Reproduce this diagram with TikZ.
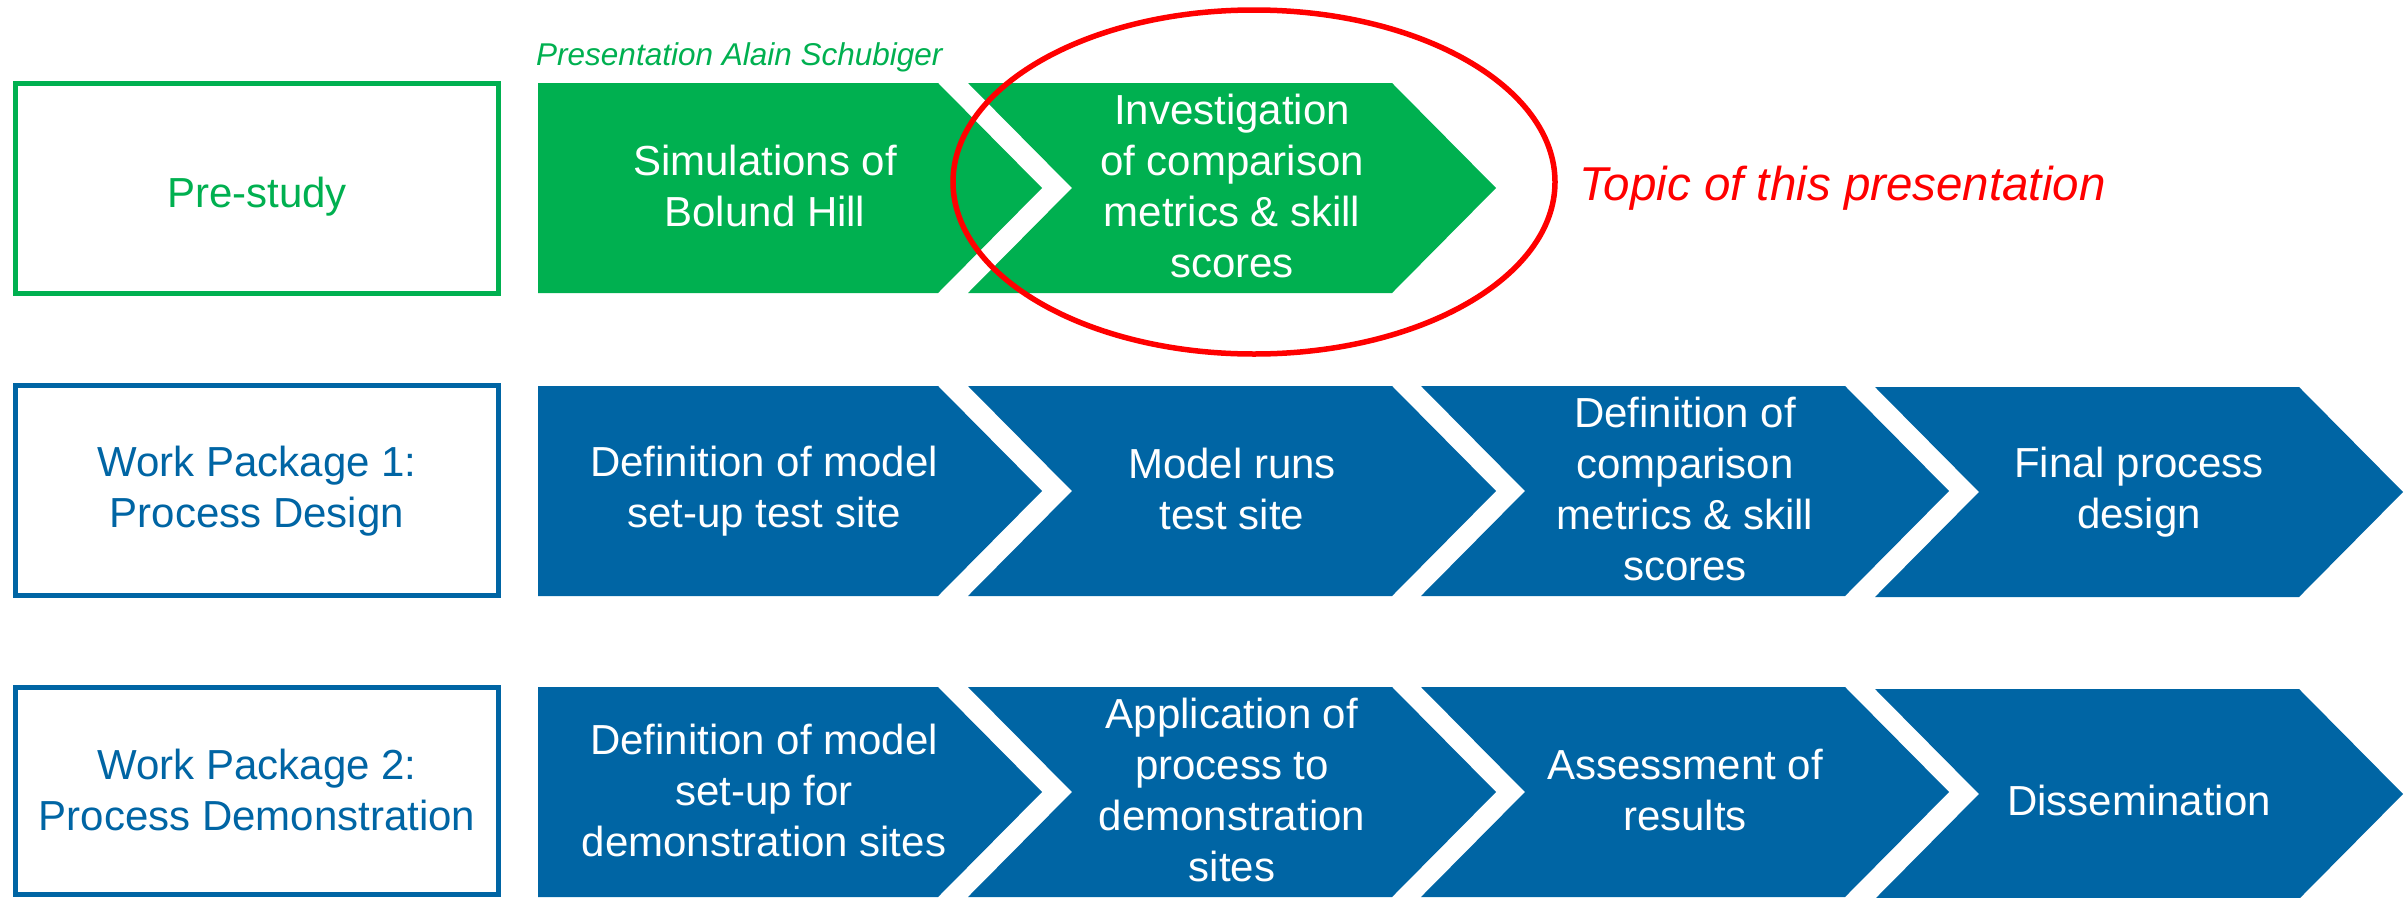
\documentclass[tikz,border=0pt]{standalone}
\usepackage{fontspec}
\setmainfont{Liberation Sans}
\definecolor{stepgreen}{RGB}{0,176,80}
\definecolor{stepblue}{RGB}{0,101,164}
\definecolor{topicred}{RGB}{255,0,0}

% arrow-shaped step: left x, top y, body length, notch depth (0 = flat), colour
\newcommand\chevbody[5]{%
  \fill[#5] (#1,#2) -- ++(#3,0) -- ++(104,105) -- ++(-104,105) -- ++(-#3,0) -- ++(#4,-105) -- cycle;}

\tikzset{
  lbl/.style={align=center, inner sep=0pt, font=\fontsize{42}{51}\selectfont,
    execute at begin node={\rule[-4pt]{0pt}{51pt}},
    execute at end node={\rule[-4pt]{0pt}{51pt}}},
  steptext/.style={lbl, text=white},
  phasebox/.style={draw=#1, line width=5pt, fill=white},
  phasetext/.style={lbl, text=#1},
}

\begin{document}
\begin{tikzpicture}[x=1pt, y=-1pt]
\useasboundingbox (0,0) rectangle (2405,897);

% ---------- Pre-study ----------
\draw[phasebox=stepgreen] (15.5,83.5) rectangle (498.5,293.5);
\node[phasetext=stepgreen] (pre) at (257,188) {Pre-study};
\chevbody{538}{83}{400}{0}{stepgreen}
\chevbody{968}{83}{424}{104}{stepgreen}
\node[steptext] (p1) at (765,188) {Simulations of\\Bolund Hill};
\node[steptext] (p2) at (1232,188) {Investigation\\of comparison\\metrics \& skill\\scores};
\node[anchor=base west, inner sep=0pt, text=stepgreen, font=\fontsize{31.5}{36}\selectfont\itshape]
  (author) at (536,65) {Presentation Alain Schubiger};
\draw[topicred, line width=5.5pt] (1254,182) ellipse [x radius=301, y radius=172];
\node[anchor=base west, inner sep=0pt, text=topicred, font=\fontsize{47.5}{54}\selectfont\itshape]
  (topic) at (1579,200) {Topic of this presentation};

% ---------- Work Package 1 ----------
\draw[phasebox=stepblue] (15.5,385.5) rectangle (498.5,595.5);
\node[phasetext=stepblue] (wp1) at (257,491) {Work Package 1:\\Process Design};
\chevbody{538}{386}{400}{0}{stepblue}
\chevbody{968}{386}{424}{104}{stepblue}
\chevbody{1421}{386}{424}{104}{stepblue}
\chevbody{1875}{387}{424}{104}{stepblue}
\node[steptext] (a1) at (764,491) {Definition of model\\set-up test site};
\node[steptext] (a2) at (1232,491) {Model runs\\test site};
\node[steptext] (a3) at (1685,491) {Definition of\\comparison\\metrics \& skill\\scores};
\node[steptext] (a4) at (2139,492) {Final process\\design};

% ---------- Work Package 2 ----------
\draw[phasebox=stepblue] (15.5,687.5) rectangle (498.5,894.5);
\node[phasetext=stepblue] (wp2) at (257,792) {Work Package 2:\\Process Demonstration};
\chevbody{538}{687}{400}{0}{stepblue}
\chevbody{968}{687}{424}{104}{stepblue}
\chevbody{1421}{687}{424}{104}{stepblue}
\chevbody{1875}{689}{424}{104}{stepblue}
\node[steptext] (b1) at (764,792) {Definition of model\\set-up for\\demonstration sites};
\node[steptext] (b2) at (1232,792) {Application of\\process to\\demonstration\\sites};
\node[steptext] (b3) at (1685,792) {Assessment of\\results};
\node[steptext] (b4) at (2139,794) {Dissemination};
\end{tikzpicture}
\end{document}
